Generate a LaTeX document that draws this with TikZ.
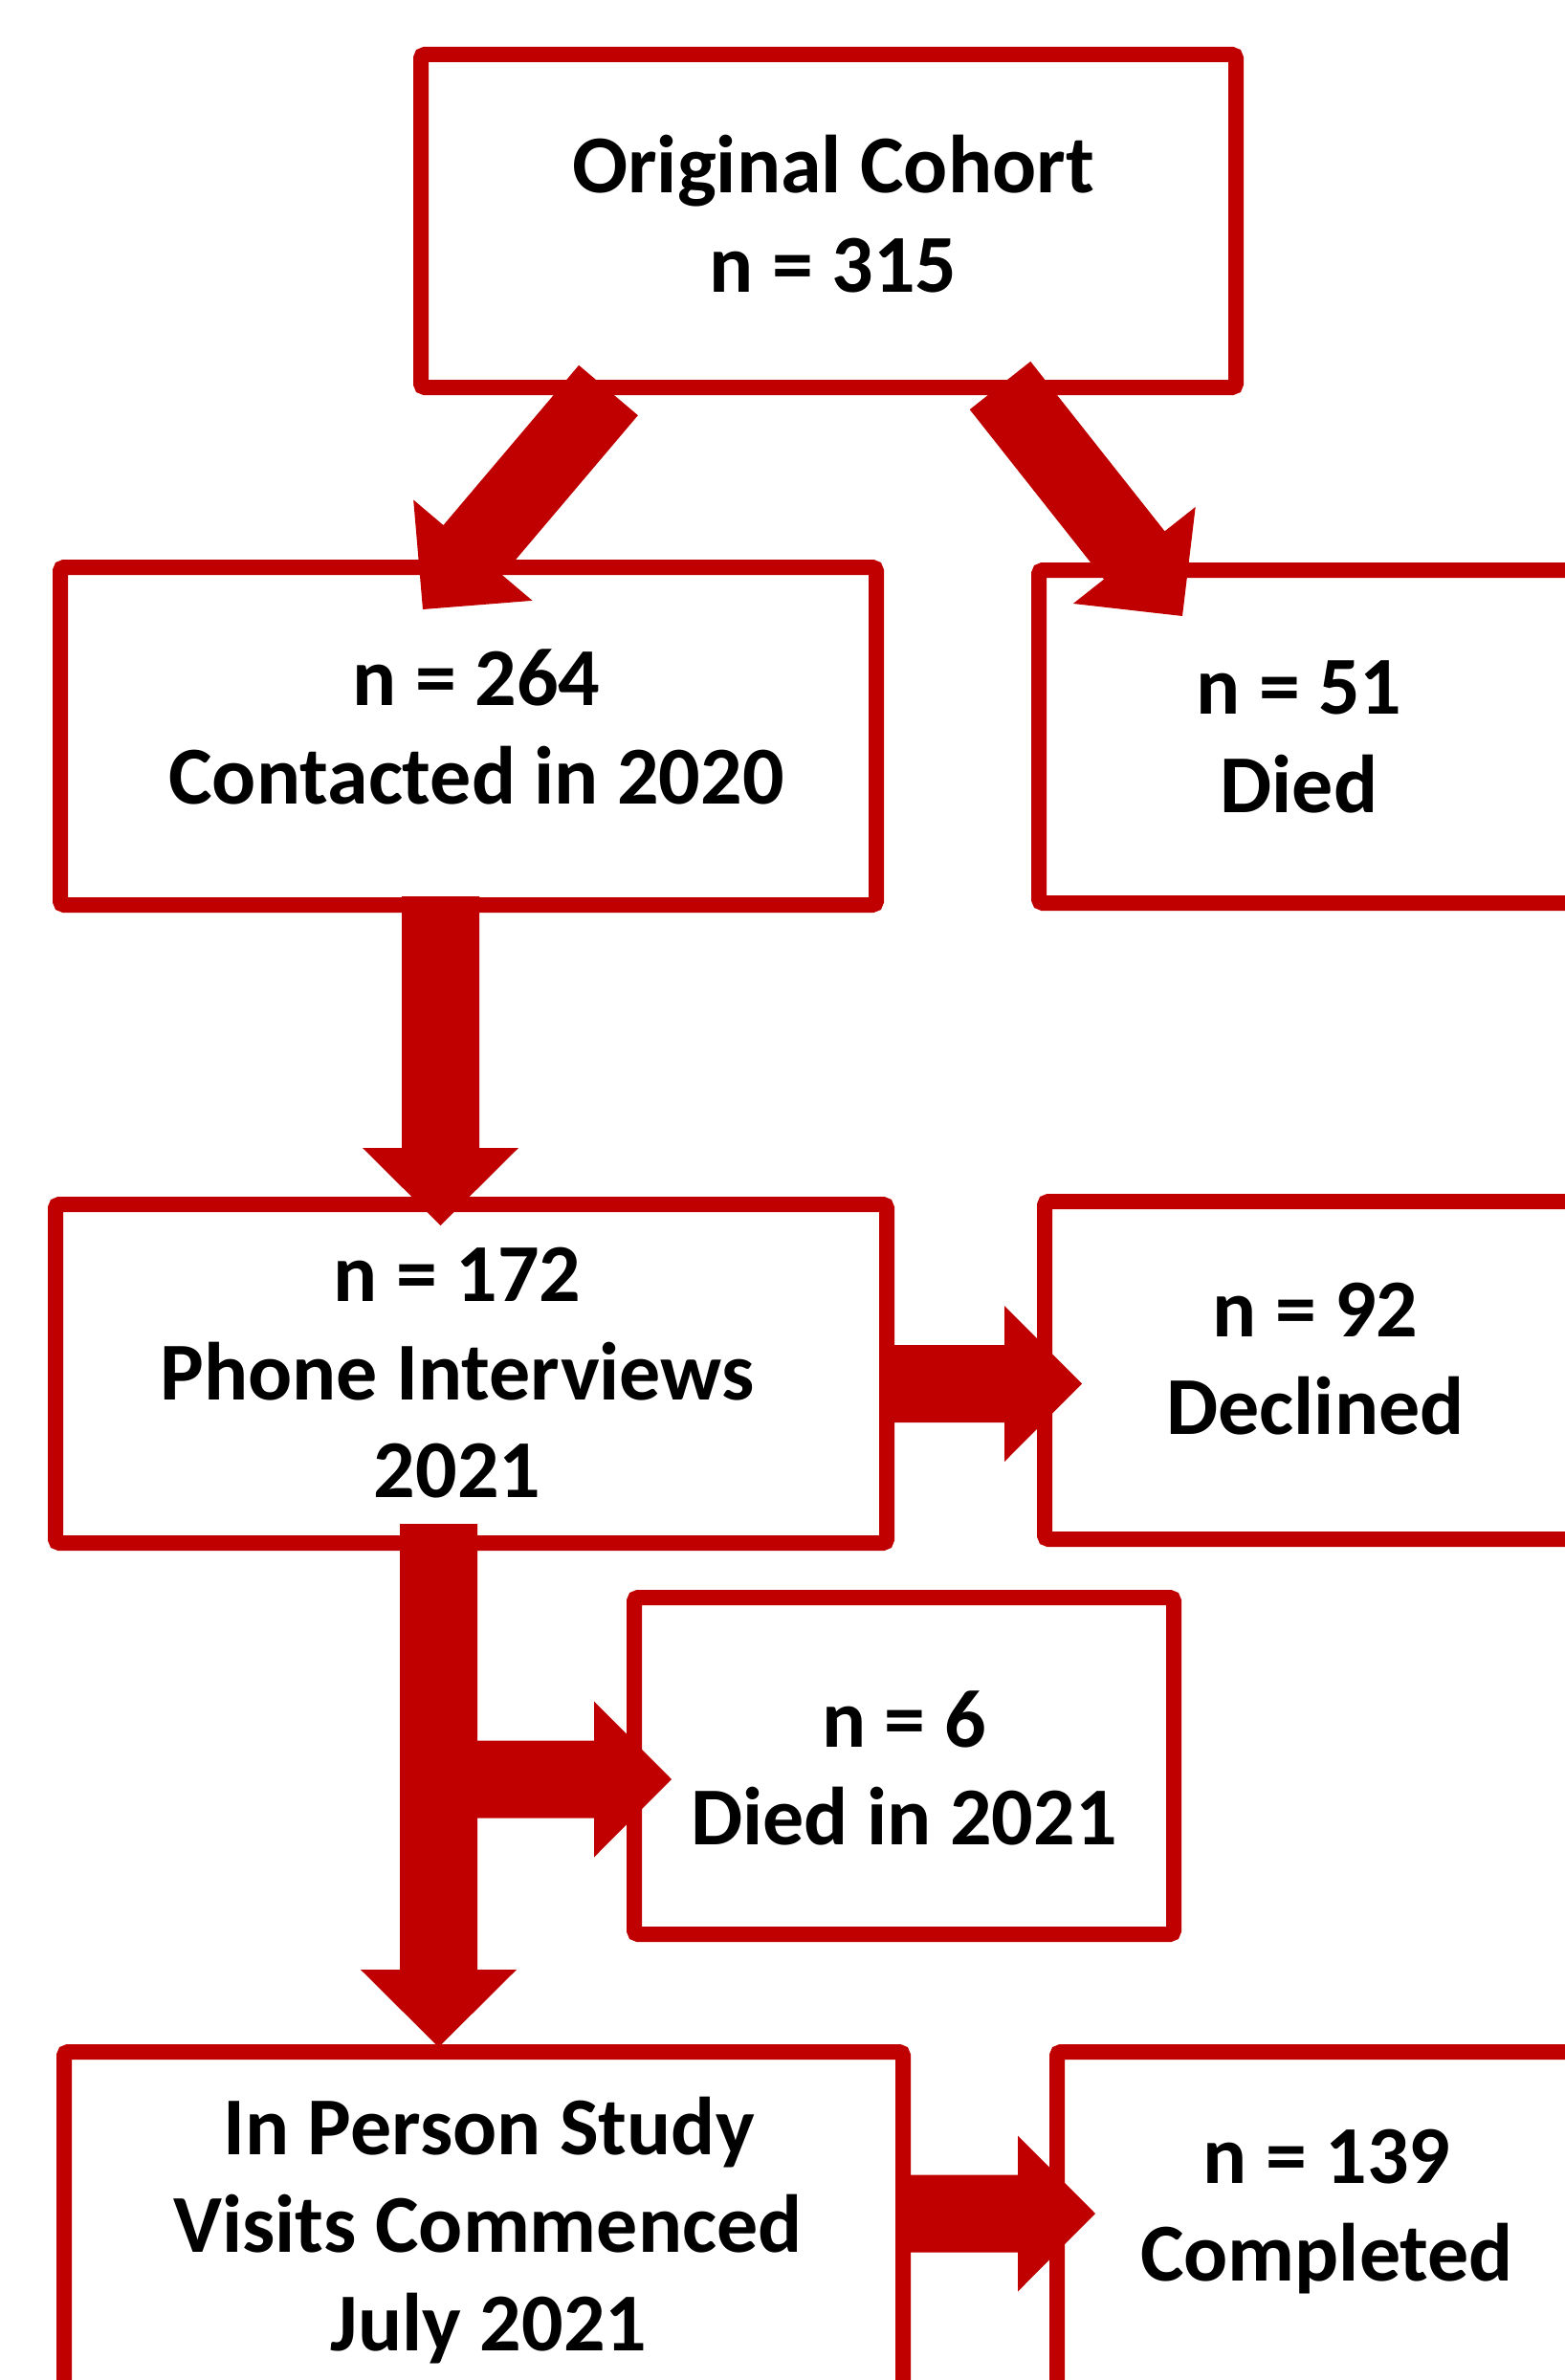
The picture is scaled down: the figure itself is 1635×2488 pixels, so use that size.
\documentclass[tikz,border=0pt]{standalone}
\usepackage{fontspec}
\setmainfont{Carlito}
\usetikzlibrary{calc}
\definecolor{cred}{RGB}{192,0,0}
% fat block arrow: #1 name prefix, #2 start, #3 tip
\newcommand\fatarrow[3]{%
  \coordinate (#1h) at ($(#3)!40.5pt!(#2)$);
  \fill[cred] ($(#2)!20.25pt!90:(#3)$) -- ($(#1h)!20.25pt!-90:(#2)$) -- ($(#1h)!40.75pt!-90:(#2)$) -- (#3)
     -- ($(#1h)!40.75pt!90:(#2)$) -- ($(#1h)!20.25pt!90:(#2)$) -- ($(#2)!20.25pt!-90:(#3)$) -- cycle;}
\begin{document}
\begin{tikzpicture}[x=0.5pt,y=-0.5pt,
  box/.style={draw=cred, line width=8pt, rounded corners=2pt, rectangle, inner sep=0pt, outer sep=0pt},
  txt/.style={font=\fontsize{43}{51.5}\selectfont\bfseries, anchor=base, inner sep=0pt, text=black}]
\useasboundingbox (0,0) rectangle (1635,2488);
% boxes
\node[box, minimum width=426pt, minimum height=174pt] (b1) at (866,231) {};
\node[box, minimum width=426.5pt, minimum height=176.5pt] (b2) at (489.5,769.5) {};
\node[box, minimum width=307pt, minimum height=174pt] (b3) at (1393,770) {};
\node[box, minimum width=434.5pt, minimum height=177pt] (b4) at (492.5,1436) {};
\node[box, minimum width=304pt, minimum height=176.5pt] (b5) at (1396,1432.5) {};
\node[box, minimum width=282pt, minimum height=176pt] (b6) at (945,1846) {};
\node[box, minimum width=438.5pt, minimum height=227.5pt] (b7) at (505.5,2372.5) {};
\node[box, minimum width=297.5pt, minimum height=227.5pt] (b8) at (1402.5,2372.5) {};
% arrow end points
\coordinate (a1s) at (636,408);    \coordinate (a1e) at (442,637);
\coordinate (a2s) at (1045.5,403); \coordinate (a2e) at (1236,644);
\coordinate (a3s) at (460.5,937);  \coordinate (a3e) at (460.5,1281);
\coordinate (a4s) at (922,1446.5); \coordinate (a4e) at (1131,1446.5);
\coordinate (a5s) at (458.5,1593); \coordinate (a5e) at (458.5,2140);
\coordinate (a6s) at (458.5,1860); \coordinate (a6e) at (702,1860);
\coordinate (a7s) at (945,2314);   \coordinate (a7e) at (1145,2314);
\fatarrow{a1}{a1s}{a1e}
\fatarrow{a2}{a2s}{a2e}
\fatarrow{a3}{a3s}{a3e}
\fatarrow{a4}{a4s}{a4e}
\fatarrow{a5}{a5s}{a5e}
\fatarrow{a6}{a6s}{a6e}
\fatarrow{a7}{a7s}{a7e}
% texts
\node[txt] (t1a) at (871,202) {Original Cohort};
\node[txt] (t1b) at (871,305) {n = 315};
\node[txt] (t2a) at (498,737) {n = 264};
\node[txt] (t2b) at (498,840) {Contacted in 2020};
\node[txt] (t3a) at (1358,746) {n = 51};
\node[txt] (t3b) at (1358,849) {Died};
\node[txt] (t4a) at (478,1360) {n = 172};
\node[txt] (t4b) at (478,1463) {Phone Interviews};
\node[txt] (t4c) at (478,1565) {2021};
\node[txt] (t5a) at (1375,1397) {n = 92};
\node[txt] (t5b) at (1375,1499) {Declined};
\node[txt] (t6a) at (945,1826) {n = 6};
\node[txt] (t6b) at (945,1928) {Died in 2021};
\node[txt] (t7a) at (511,2252) {In Person Study};
\node[txt] (t7b) at (510,2354) {Visits Commenced};
\node[txt] (t7c) at (511,2457) {July 2021};
\node[txt] (t8a) at (1387,2282) {n = 139};
\node[txt] (t8b) at (1387,2384) {Completed};
\end{tikzpicture}
\end{document}
